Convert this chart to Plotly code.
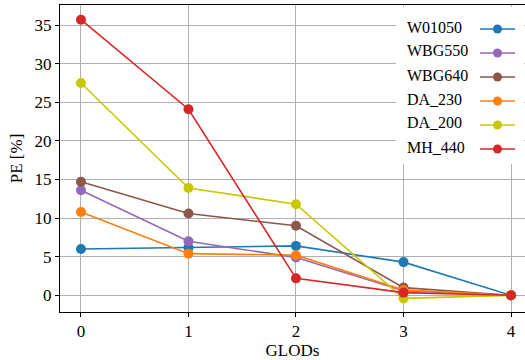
import plotly.graph_objects as go

glods = [0, 1, 2, 3, 4]
names = ["W01050", "WBG550", "WBG640", "DA_230", "DA_200", "MH_440"]
w01050 = [6.0, 6.2, 6.4, 4.3, 0.0]
wbg550 = [13.6, 7.0, 4.9, 0.6, 0.0]
wbg640 = [14.7, 10.6, 9.0, 1.0, 0.0]
da_230 = [10.8, 5.4, 5.2, 0.7, 0.0]
da_200 = [27.5, 13.9, 11.8, -0.4, 0.0]
mh_440 = [35.7, 24.1, 2.2, 0.35, 0.0]
series = [w01050, wbg550, wbg640, da_230, da_200, mh_440]
colors = ["#1f77b4", "#9467bd", "#8c564b", "#ff7f0e", "#c8c800", "#d62728"]
x_ticks = [0, 1, 2, 3, 4]
y_ticks = [0, 5, 10, 15, 20, 25, 30, 35]

W, H = 525, 360
ML, MR, MT, MB = 60, 0, 5, 48
PW, PH = W - ML - MR, H - MT - MB

def px(x):
    return (x - ML) / PW

def py(y):
    return (H - MB - y) / PH

FONT = "'Liberation Serif', 'Times New Roman', serif"

fig = go.Figure()
for name, vals, c in zip(names, series, colors):
    fig.add_trace(go.Scatter(x=glods, y=vals, name=name, mode="lines+markers",
                             line=dict(color=c, width=1.6),
                             marker=dict(color=c, size=10), showlegend=False))

shapes = []
annotations = []
# legend box
shapes.append(dict(type="rect", xref="paper", yref="paper", x0=px(396), x1=px(524),
                   y0=py(164), y1=py(7), fillcolor="white", line=dict(width=0), layer="above"))
ys = [27, 51, 75, 99, 123, 147]
for name, c, yy in zip(names, colors, ys):
    annotations.append(dict(xref="paper", yref="paper", x=px(405), y=py(yy), text=name,
                            showarrow=False, xanchor="left", yanchor="middle",
                            font=dict(family=FONT, size=16, color="black")))
    shapes.append(dict(type="line", xref="paper", yref="paper", x0=px(480), x1=px(515),
                       y0=py(yy + 2), y1=py(yy + 2), line=dict(color=c, width=1.6), layer="above"))
    shapes.append(dict(type="circle", xref="paper", yref="paper", xsizemode="pixel",
                       ysizemode="pixel", xanchor=px(497.5), yanchor=py(yy + 2),
                       x0=-4.5, x1=4.5, y0=-4.5, y1=4.5, fillcolor=c,
                       line=dict(color=c, width=0), layer="above"))

fig.update_layout(
    width=W, height=H, margin=dict(l=ML, r=MR, t=MT, b=MB),
    paper_bgcolor="white", plot_bgcolor="white",
    font=dict(family=FONT, size=17, color="black"),
    shapes=shapes, annotations=annotations,
    xaxis=dict(range=[-0.195, 4.13], tickvals=x_ticks, showgrid=True, gridcolor="#b0b0b0",
               gridwidth=1, zeroline=False, showline=True, linecolor="black", linewidth=1,
               mirror=True, ticks="outside", ticklen=4, tickcolor="black",
               title=dict(text="GLODs", font=dict(size=17), standoff=5)),
    yaxis=dict(range=[-2.16, 37.6], tickvals=y_ticks, showgrid=True, gridcolor="#b0b0b0",
               gridwidth=1, zeroline=False, showline=True, linecolor="black", linewidth=1,
               ticks="outside", ticklen=4, tickcolor="black",
               title=dict(text="PE [%]", font=dict(size=17), standoff=7)),
)

fig.write_html("out.html", config={"displayModeBar": False},
               post_script="document.body.style.margin='0';document.body.style.overflow='hidden';")
